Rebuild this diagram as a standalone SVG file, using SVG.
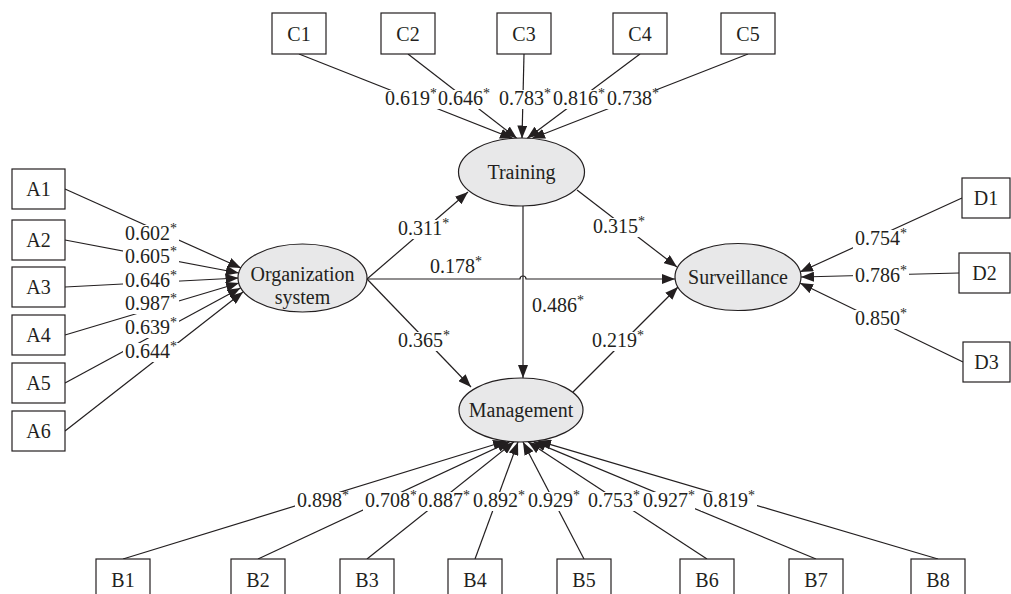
<svg xmlns="http://www.w3.org/2000/svg" width="1011" height="594" viewBox="0 0 1011 594">
<defs>
<style>
.box{fill:#fff;stroke:#231f20;stroke-width:1.2}
.lat{fill:#e8e8e9;stroke:#231f20;stroke-width:1.2}
.t{font-family:"Liberation Serif","Times New Roman",serif;font-size:20px;fill:#231f20}
.m{text-anchor:middle}
.s{font-size:14px}
.bg{fill:#fff}
.e{fill:none;stroke:#231f20;stroke-width:1.2;marker-end:url(#ah)}
</style>
<marker id="ah" markerUnits="userSpaceOnUse" viewBox="0 0 13 10" refX="13" refY="5" markerWidth="13" markerHeight="10" orient="auto"><path d="M0,0 L13,5 L0,10 z" fill="#231f20"/></marker>
</defs>
<rect width="1011" height="594" fill="#fff"/>
<g id="connectors">
<path class="e" d="M299,54 L513,138.5"/>
<path class="e" d="M408,54 L517,138.5"/>
<path class="e" d="M524,54 L522,138.5"/>
<path class="e" d="M640,54 L527,138.5"/>
<path class="e" d="M748,54 L532,138.5"/>
<path class="e" d="M65,189 L241,268"/>
<path class="e" d="M65,240 L238.8,273"/>
<path class="e" d="M65,287 L238.5,278"/>
<path class="e" d="M65,335 L239,283"/>
<path class="e" d="M65,383 L240.5,288"/>
<path class="e" d="M65,431 L243,292"/>
<path class="e" d="M962,198 L800,272"/>
<path class="e" d="M959,273 L801,277"/>
<path class="e" d="M963,362 L800,283"/>
<path class="e" d="M123,559 L506,441"/>
<path class="e" d="M258,559 L510,441.5"/>
<path class="e" d="M367,559 L514,441.8"/>
<path class="e" d="M475,559 L518,442"/>
<path class="e" d="M584,559 L523,442"/>
<path class="e" d="M707,559 L528,441.8"/>
<path class="e" d="M816,559 L533,441.4"/>
<path class="e" d="M938,559 L538,440.8"/>
<path class="e" d="M367,279 L468,192"/>
<path class="e" d="M367,279 L471,387"/>
<path class="e" d="M367,279 H520 A3,3 0 0 1 526,279 H675"/>
<path class="e" d="M523,206 V378"/>
<path class="e" d="M577,190 L677,267"/>
<path class="e" d="M573,392 L678,287"/>
</g>
<g id="labels" class="t">
<rect class="bg" x="383" y="90" width="54" height="19"/><text x="385" y="105">0.619<tspan class="s" dy="-7">*</tspan></text>
<rect class="bg" x="436" y="90" width="54" height="19"/><text x="438" y="105">0.646<tspan class="s" dy="-7">*</tspan></text>
<rect class="bg" x="497" y="90" width="54" height="19"/><text x="499" y="105">0.783<tspan class="s" dy="-7">*</tspan></text>
<rect class="bg" x="551" y="90" width="54" height="19"/><text x="553" y="105">0.816<tspan class="s" dy="-7">*</tspan></text>
<rect class="bg" x="605" y="90" width="54" height="19"/><text x="607" y="105">0.738<tspan class="s" dy="-7">*</tspan></text>
<rect class="bg" x="123" y="225" width="56" height="19"/><text x="125" y="240">0.602<tspan class="s" dy="-7">*</tspan></text>
<rect class="bg" x="123" y="248" width="56" height="19"/><text x="125" y="263">0.605<tspan class="s" dy="-7">*</tspan></text>
<rect class="bg" x="123" y="272" width="56" height="19"/><text x="125" y="287">0.646<tspan class="s" dy="-7">*</tspan></text>
<rect class="bg" x="123" y="295" width="56" height="19"/><text x="125" y="310">0.987<tspan class="s" dy="-7">*</tspan></text>
<rect class="bg" x="123" y="319" width="56" height="19"/><text x="125" y="334">0.639<tspan class="s" dy="-7">*</tspan></text>
<rect class="bg" x="123" y="343" width="56" height="19"/><text x="125" y="358">0.644<tspan class="s" dy="-7">*</tspan></text>
<rect class="bg" x="853" y="230" width="56" height="19"/><text x="855" y="245">0.754<tspan class="s" dy="-7">*</tspan></text>
<rect class="bg" x="853" y="267" width="56" height="19"/><text x="855" y="282">0.786<tspan class="s" dy="-7">*</tspan></text>
<rect class="bg" x="853" y="310" width="56" height="19"/><text x="855" y="325">0.850<tspan class="s" dy="-7">*</tspan></text>
<rect class="bg" x="295" y="492" width="56" height="19"/><text x="297" y="507">0.898<tspan class="s" dy="-7">*</tspan></text>
<rect class="bg" x="363" y="492" width="54" height="19"/><text x="365" y="507">0.708<tspan class="s" dy="-7">*</tspan></text>
<rect class="bg" x="416" y="492" width="54" height="19"/><text x="418" y="507">0.887<tspan class="s" dy="-7">*</tspan></text>
<rect class="bg" x="471" y="492" width="54" height="19"/><text x="473" y="507">0.892<tspan class="s" dy="-7">*</tspan></text>
<rect class="bg" x="526" y="492" width="54" height="19"/><text x="528" y="507">0.929<tspan class="s" dy="-7">*</tspan></text>
<rect class="bg" x="586" y="492" width="54" height="19"/><text x="588" y="507">0.753<tspan class="s" dy="-7">*</tspan></text>
<rect class="bg" x="641" y="492" width="54" height="19"/><text x="643" y="507">0.927<tspan class="s" dy="-7">*</tspan></text>
<rect class="bg" x="701" y="492" width="56" height="19"/><text x="703" y="507">0.819<tspan class="s" dy="-7">*</tspan></text>
<rect class="bg" x="396" y="220" width="56" height="19"/><text x="398" y="235">0.311<tspan class="s" dy="-7">*</tspan></text>
<text x="430" y="273">0.178<tspan class="s" dy="-7">*</tspan></text>
<rect class="bg" x="396" y="332" width="56" height="19"/><text x="398" y="347">0.365<tspan class="s" dy="-7">*</tspan></text>
<text x="532" y="312">0.486<tspan class="s" dy="-7">*</tspan></text>
<rect class="bg" x="591" y="218" width="56" height="19"/><text x="593" y="233">0.315<tspan class="s" dy="-7">*</tspan></text>
<rect class="bg" x="590" y="332" width="56" height="19"/><text x="592" y="347">0.219<tspan class="s" dy="-7">*</tspan></text>
</g>
<g id="Training"><ellipse class="lat" cx="521.5" cy="172" rx="63" ry="34"/><text class="t m" x="521.5" y="179">Training</text></g>
<g id="Organization"><ellipse class="lat" cx="302.5" cy="278" rx="64.5" ry="34"/><text class="t m" x="302.5" y="281">Organization</text><text class="t m" x="302.5" y="304">system</text></g>
<g id="Surveillance"><ellipse class="lat" cx="738" cy="277" rx="63" ry="33.5"/><text class="t m" x="738" y="284">Surveillance</text></g>
<g id="Management"><ellipse class="lat" cx="521" cy="410" rx="62" ry="32"/><text class="t m" x="521" y="417">Management</text></g>
<g id="C1"><rect class="box" x="272" y="13" width="54" height="41"/><text class="t m" x="299" y="41">C1</text></g>
<g id="C2"><rect class="box" x="381" y="13" width="54" height="41"/><text class="t m" x="408" y="41">C2</text></g>
<g id="C3"><rect class="box" x="497" y="13" width="54" height="41"/><text class="t m" x="524" y="41">C3</text></g>
<g id="C4"><rect class="box" x="613" y="13" width="54" height="41"/><text class="t m" x="640" y="41">C4</text></g>
<g id="C5"><rect class="box" x="721" y="13" width="54" height="41"/><text class="t m" x="748" y="41">C5</text></g>
<g id="A1"><rect class="box" x="12" y="169" width="53" height="40"/><text class="t m" x="38.5" y="196">A1</text></g>
<g id="A2"><rect class="box" x="12" y="220" width="53" height="40"/><text class="t m" x="38.5" y="247">A2</text></g>
<g id="A3"><rect class="box" x="12" y="267" width="53" height="40"/><text class="t m" x="38.5" y="294">A3</text></g>
<g id="A4"><rect class="box" x="12" y="315" width="53" height="40"/><text class="t m" x="38.5" y="342">A4</text></g>
<g id="A5"><rect class="box" x="12" y="363" width="53" height="40"/><text class="t m" x="38.5" y="390">A5</text></g>
<g id="A6"><rect class="box" x="12" y="411" width="53" height="40"/><text class="t m" x="38.5" y="438">A6</text></g>
<g id="D1"><rect class="box" x="962" y="178" width="48" height="40"/><text class="t m" x="986" y="205">D1</text></g>
<g id="D2"><rect class="box" x="959" y="253" width="51" height="40"/><text class="t m" x="984.5" y="280">D2</text></g>
<g id="D3"><rect class="box" x="963" y="342" width="47" height="40"/><text class="t m" x="986.5" y="369">D3</text></g>
<g id="B1"><rect class="box" x="96" y="559" width="54" height="40"/><text class="t m" x="123" y="587">B1</text></g>
<g id="B2"><rect class="box" x="231" y="559" width="54" height="40"/><text class="t m" x="258" y="587">B2</text></g>
<g id="B3"><rect class="box" x="340" y="559" width="54" height="40"/><text class="t m" x="367" y="587">B3</text></g>
<g id="B4"><rect class="box" x="448" y="559" width="54" height="40"/><text class="t m" x="475" y="587">B4</text></g>
<g id="B5"><rect class="box" x="557" y="559" width="54" height="40"/><text class="t m" x="584" y="587">B5</text></g>
<g id="B6"><rect class="box" x="680" y="559" width="54" height="40"/><text class="t m" x="707" y="587">B6</text></g>
<g id="B7"><rect class="box" x="789" y="559" width="54" height="40"/><text class="t m" x="816" y="587">B7</text></g>
<g id="B8"><rect class="box" x="911" y="559" width="54" height="40"/><text class="t m" x="938" y="587">B8</text></g>
</svg>
